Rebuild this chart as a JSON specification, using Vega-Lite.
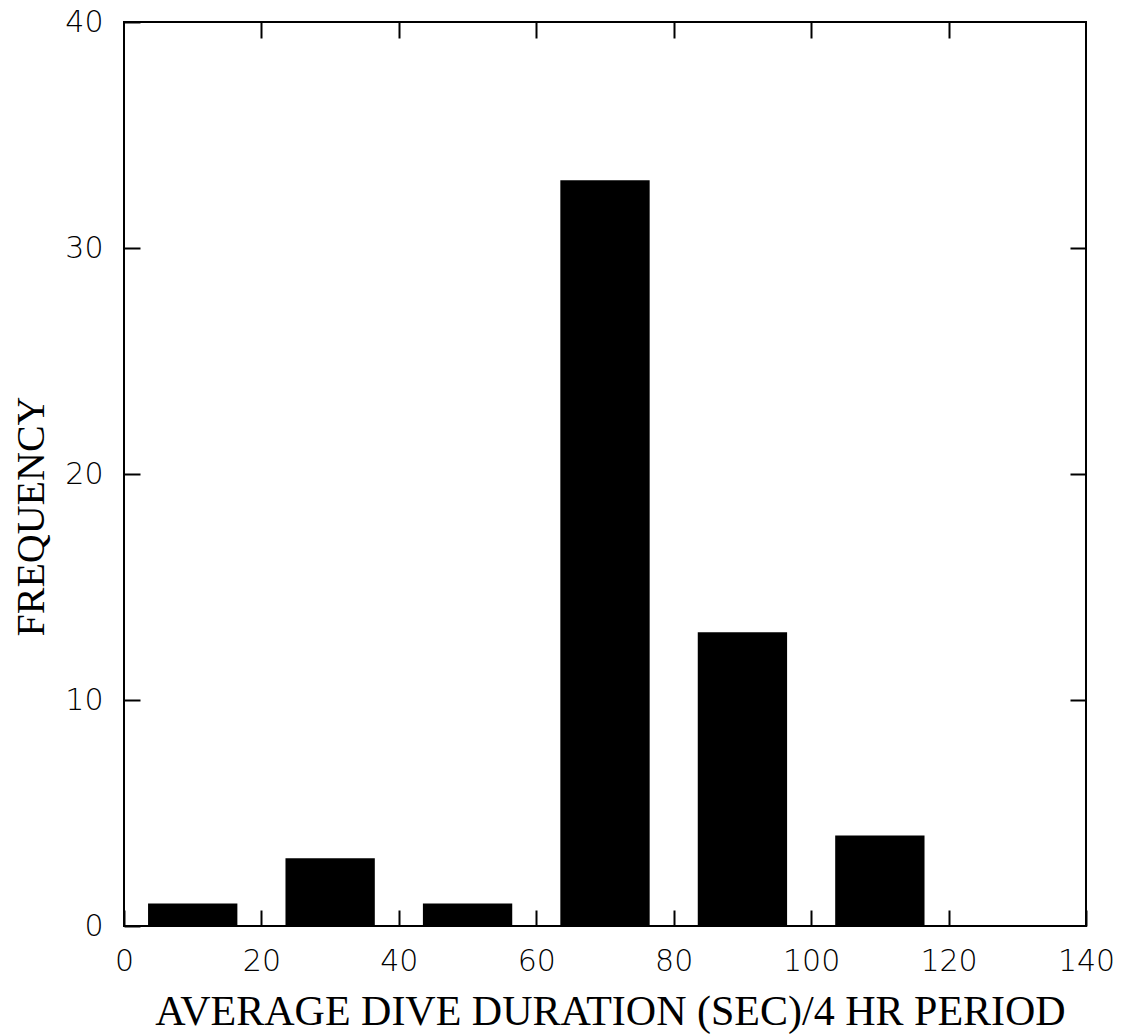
{
  "$schema": "https://vega.github.io/schema/vega-lite/v6.json",
  "width": 962,
  "height": 904,
  "autosize": "none",
  "padding": {"left": 124, "top": 22, "right": 37, "bottom": 109},
  "background": "white",
  "data": {"values": [
    {"start": 3.5, "end": 16.5, "frequency": 1},
    {"start": 23.5, "end": 36.5, "frequency": 3},
    {"start": 43.5, "end": 56.5, "frequency": 1},
    {"start": 63.5, "end": 76.5, "frequency": 33},
    {"start": 83.5, "end": 96.5, "frequency": 13},
    {"start": 103.5, "end": 116.5, "frequency": 4}
  ]},
  "config": {
    "view": {"stroke": "black", "strokeWidth": 2},
    "axis": {
      "domain": false,
      "grid": false,
      "tickColor": "black",
      "tickWidth": 2,
      "tickSize": -16,
      "labelColor": "black",
      "labelFont": "DejaVu Sans",
      "labelFontWeight": 200,
      "labelFontSize": 30,
      "labelFlush": false,
      "titleColor": "black",
      "titleFont": "Liberation Serif",
      "titleFontWeight": "normal"
    }
  },
  "resolve": {"axis": {"x": "independent", "y": "independent"}},
  "layer": [
    {
      "mark": {"type": "bar", "color": "black"},
      "encoding": {
        "x": {"field": "start", "type": "quantitative",
          "scale": {"domain": [0, 140], "nice": false, "zero": false},
          "axis": {"orient": "bottom", "values": [0, 20, 40, 60, 80, 100, 120, 140], "labelPadding": 36,
            "title": "AVERAGE DIVE DURATION (SEC)/4 HR PERIOD", "titleFontSize": 42,
            "titleX": 486, "titleY": 98, "titleBaseline": "alphabetic", "titleAlign": "center"}},
        "x2": {"field": "end"},
        "y": {"field": "frequency", "type": "quantitative",
          "scale": {"domain": [0, 40], "nice": false},
          "axis": {"orient": "left", "values": [0, 10, 20, 30, 40], "labelPadding": 37,
            "title": "FREQUENCY", "titleFontSize": 40,
            "titleX": -81, "titleY": 494, "titleBaseline": "alphabetic", "titleAlign": "center", "titleAngle": 270}},
        "y2": {"datum": 0}
      }
    },
    {
      "mark": {"type": "bar", "opacity": 0},
      "encoding": {
        "x": {"field": "start", "type": "quantitative",
          "axis": {"orient": "top", "values": [20, 40, 60, 80, 100, 120], "labels": false, "title": null}},
        "x2": {"field": "end"},
        "y": {"field": "frequency", "type": "quantitative",
          "axis": {"orient": "right", "values": [10, 20, 30], "labels": false, "title": null}},
        "y2": {"datum": 0}
      }
    }
  ]
}
